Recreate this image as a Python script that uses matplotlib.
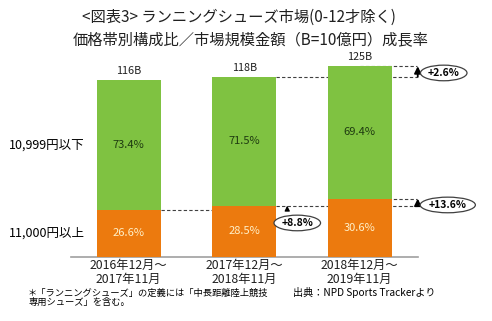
import matplotlib.pyplot as plt
import numpy as np

plt.rcParams['font.family'] = ['Noto Sans CJK JP', 'DejaVu Sans']

periods = ['2016年12月～\n2017年11月', '2017年12月～\n2018年11月', '2018年12月～\n2019年11月']
market_total = [116, 118, 125]          # 市場規模 (B=10億円)
share_high = [26.6, 28.5, 30.6]         # 11,000円以上 (%)
share_low = [73.4, 71.5, 69.4]          # 10,999円以下 (%)
growth_total = '+2.6%'
growth_high = ['+8.8%', '+13.6%']

green = '#7fc241'
orange = '#ec7a0e'
dash_col = '#404040'

total = np.array(market_total, dtype=float)
high = total * np.array(share_high) / 100
low = total - high
x = np.arange(len(periods))
w = 0.55

fig = plt.figure(figsize=(4.92, 3.21), dpi=100)
ax = fig.add_axes([0.1443, 0.1994, 0.7043, 0.618])

ax.bar(x, high, w, color=orange, zorder=3)
ax.bar(x, low, w, bottom=high, color=green, zorder=3)

for i in range(len(x)):
    ax.text(x[i], high[i] / 2, f'{share_high[i]:.1f}%', ha='center', va='center',
            fontsize=8, color='#fff0c8', zorder=4)
    ax.text(x[i], high[i] + low[i] / 2, f'{share_low[i]:.1f}%', ha='center', va='center',
            fontsize=8, color='#1e3a10', zorder=4)
    ax.text(x[i], total[i] + 2.5, f'{market_total[i]}B', ha='center', va='bottom',
            fontsize=7.8, color='#202020', zorder=4)

# dashed guides between bar levels
xr = 2.494
dkw = dict(color=dash_col, lw=0.8, ls=(0, (3, 2)), zorder=1, clip_on=False)
ax.plot([x[0] + w / 2, x[1]], [high[0], high[0]], **dkw)
ax.plot([x[1] + w / 2, xr], [high[1], high[1]], **dkw)
ax.plot([x[2], xr], [high[2], high[2]], **dkw)
ax.plot([x[1] + w / 2, xr], [total[1], total[1]], **dkw)
ax.plot([x[2], xr], [total[2], total[2]], **dkw)


def up_arrow(xpos, y0, y1, lw=1.3, hl=0.4, hw=0.2):
    ann = ax.annotate('', xy=(xpos, y1), xytext=(xpos, y0),
                      arrowprops=dict(arrowstyle=f'-|>,head_length={hl},head_width={hw}',
                                      color='black', lw=lw, shrinkA=0, shrinkB=0),
                      annotation_clip=False)
    ann.arrow_patch.set_clip_on(False)


up_arrow(xr + 0.008, total[1], total[2])
up_arrow(xr + 0.008, high[1], high[2])
up_arrow(1.372, high[0], high[1], lw=0.8, hl=0.3, hw=0.15)

ekw = dict(boxstyle='ellipse,pad=0.05', fc='white', ec='#404040', lw=0.9)
ax.text(2.727, 120.6, growth_total, ha='center', va='center', fontsize=7.5,
        fontweight='bold', bbox=ekw, clip_on=False)
ax.text(2.762, 34.1, growth_high[1], ha='center', va='center', fontsize=7.5,
        fontweight='bold', bbox=ekw, clip_on=False)
ax.text(1.459, 22.3, growth_high[0], ha='center', va='center', fontsize=7.5,
        fontweight='bold', bbox=ekw, clip_on=False, zorder=5)

ax.set_xlim(-0.5, 2.5)
ax.set_ylim(0, 130)
ax.set_xticks(x)
ax.set_xticklabels(periods, fontsize=8.8, linespacing=1.12, color='#202020')
ax.tick_params(axis='x', length=0, pad=1.5)
ax.set_yticks([])
for s in ['top', 'left', 'right']:
    ax.spines[s].set_visible(False)
ax.spines['bottom'].set_color('#a0a0a0')
ax.spines['bottom'].set_linewidth(1.2)

fig.text(0.1728, 0.548, '10,999円以下', ha='right', va='center', fontsize=9)
fig.text(0.1728, 0.274, '11,000円以上', ha='right', va='center', fontsize=9)

fig.text(0.486, 0.947, '<図表3> ランニングシューズ市場(0-12才除く)', ha='center', va='center',
         fontsize=11, color='#202020')
fig.text(0.51, 0.875, '価格帯別構成比／市場規模金額（B=10億円）成長率', ha='center', va='center',
         fontsize=11, color='#202020')

fig.text(0.057, 0.088, '＊「ランニングシューズ」の定義には「中長距離陸上競技', ha='left', va='center',
         fontsize=6.7)
fig.text(0.057, 0.058, '専用シューズ」を含む。', ha='left', va='center', fontsize=6.7)
fig.text(0.596, 0.088, '出典：NPD Sports Trackerより', ha='left', va='center', fontsize=7.3)

fig.savefig('out.png', dpi=100)
